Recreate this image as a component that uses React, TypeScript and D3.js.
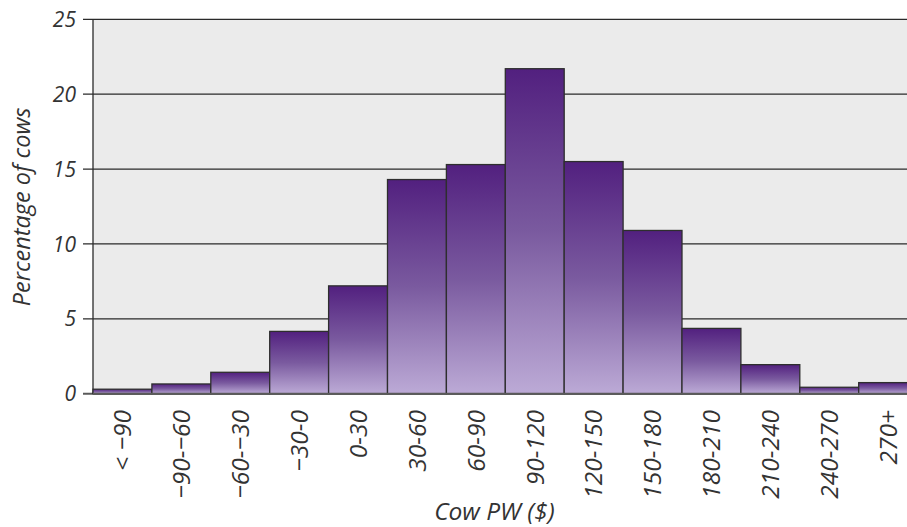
import * as d3 from 'd3';
import React from 'react';

const categories = [
  '< \u221290',
  '\u221290-\u221260',
  '\u221260-\u221230',
  '\u221230-0',
  '0-30',
  '30-60',
  '60-90',
  '90-120',
  '120-150',
  '150-180',
  '180-210',
  '210-240',
  '240-270',
  '270+',
];
const percentages = [0.3, 0.65, 1.43, 4.16, 7.2, 14.3, 15.3, 21.7, 15.5, 10.9, 4.36, 1.94, 0.43, 0.74];
const yTicks = [0, 5, 10, 15, 20, 25];

const W = 907;
const H = 527;
const left = 93;
const top = 19.3;
const bottom = 393.7;
const right = 917.6;
const font = "'Open Sans', 'DejaVu Sans', sans-serif";

const App = () => {
  const x = d3.scaleBand<string>().domain(categories).range([left, right]).padding(0);
  const y = d3.scaleLinear().domain([0, 25]).range([bottom, top]);

  return (
    <svg width={W} height={H} style={{ position: 'absolute', left: 0, top: 0, display: 'block' }} fontFamily={font}>
      <defs>
        <linearGradient id="barGrad" x1="0" y1="0" x2="0" y2="1">
          <stop offset="0%" stopColor="#52207f" />
          <stop offset="50%" stopColor="#7a5a9f" />
          <stop offset="100%" stopColor="#bcaad6" />
        </linearGradient>
      </defs>
      <rect x={left} y={top} width={W - left} height={bottom - top} fill="#ebebeb" />
      {yTicks.map((t) => (
        <g key={t}>
          <line
            x1={83}
            x2={W}
            y1={y(t)}
            y2={y(t)}
            stroke={t === 0 ? '#5a5a5a' : '#2a2a2a'}
            strokeWidth={t === 0 ? 2 : 1.3}
          />
          <text
            x={76}
            y={y(t)}
            dy="0.36em"
            textAnchor="end"
            fontStyle="italic"
            fontSize={21}
            fill="#333"
          >
            {t}
          </text>
        </g>
      ))}
      <line x1={left} x2={left} y1={top} y2={bottom} stroke="#2a2a2a" strokeWidth={1.3} />
      {categories.map((c, i) => (
        <rect
          key={c}
          x={x(c)}
          y={y(percentages[i])}
          width={x.bandwidth()}
          height={bottom - y(percentages[i])}
          fill="url(#barGrad)"
          stroke="#2e2e2e"
          strokeWidth={1.3}
        />
      ))}
      <line x1={left} x2={W} y1={bottom} y2={bottom} stroke="#5a5a5a" strokeWidth={2} />
      {categories.map((c) => {
        const cx = (x(c) as number) + x.bandwidth() / 2;
        return (
          <text
            key={c}
            transform={`translate(${cx},410) rotate(-90)`}
            textAnchor="end"
            dy="0.36em"
            fontStyle="italic"
            fontSize={24.5}
            fill="#333"
          >
            {c}
          </text>
        );
      })}
      <text
        transform="translate(30,207) rotate(-90)"
        textAnchor="middle"
        fontStyle="italic"
        fontSize={23.5}
        fill="#333"
      >
        Percentage of cows
      </text>
      <text x={494.5} y={520} textAnchor="middle" fontStyle="italic" fontSize={24.5} fill="#333">
        Cow PW ($)
      </text>
    </svg>
  );
};

export default App;
